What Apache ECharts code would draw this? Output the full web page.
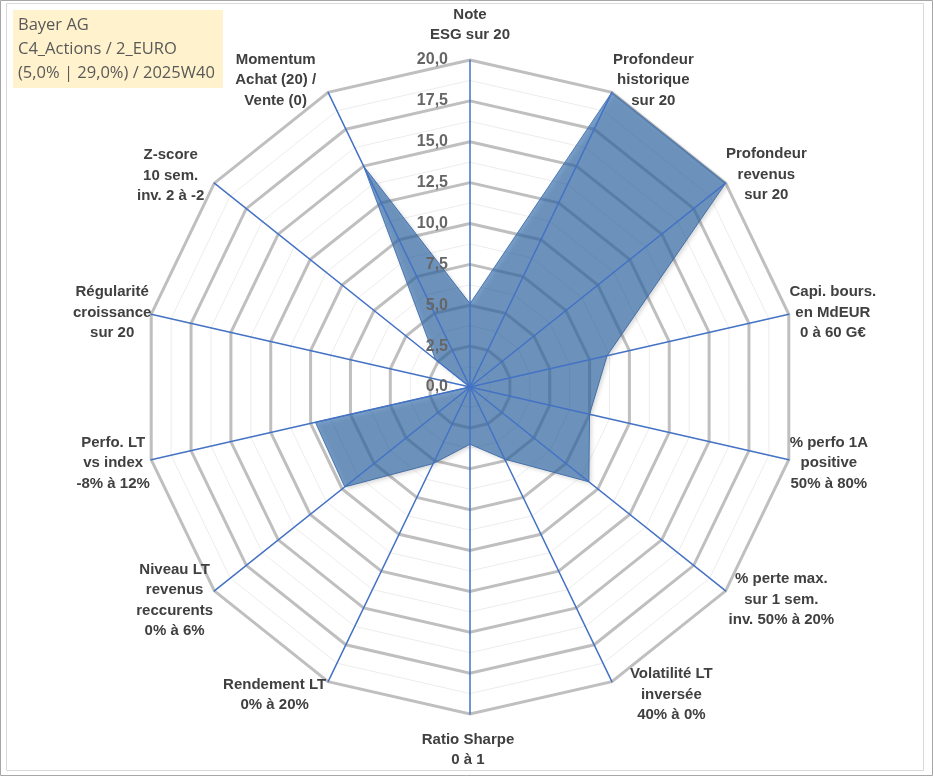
<!DOCTYPE html>
<html>
<head>
<meta charset="utf-8">
<script src="https://cdn.jsdelivr.net/npm/echarts@6/dist/echarts.min.js"></script>
<style>
  html, body { margin: 0; padding: 0; background: #fff; }
  #chart { width: 933px; height: 776px; }
</style>
</head>
<body>
<div id="chart"></div>
<script>
// axes, clockwise from the top
var axisNames = [
  'Note\nESG sur 20',
  'Profondeur\nhistorique\nsur 20',
  'Profondeur\nrevenus\nsur 20',
  'Capi. bours.\nen MdEUR\n0 à 60 G€',
  '% perfo 1A\npositive\n50% à 80%',
  '% perte max.\nsur 1 sem.\ninv. 50% à 20%',
  'Volatilité LT\ninversée\n40% à 0%',
  'Ratio Sharpe\n0 à 1',
  'Rendement LT\n0% à 20%',
  'Niveau LT\nrevenus\nreccurents\n0% à 6%',
  'Perfo. LT\nvs index\n-8% à 12%',
  'Régularité\ncroissance\nsur 20',
  'Z-score\n10 sem.\ninv. 2 à -2',
  'Momentum\nAchat (20) /\nVente (0)'
];
var scores = [5.1, 20, 20, 8.6, 7.5, 9.3, 4.9, 3.5, 5.2, 9.8, 9.7, 0, 2.7, 15];
var scaleMin = 0;
var scaleMax = 20;
var tickStep = 2.5;
var titleLines = ['Bayer AG', 'C4_Actions / 2_EURO', '(5,0% | 29,0%) / 2025W40'];

// layout only: nudge of each axis name (px) to sit like the Excel labels
var nameShift = [
  [0, 3], [25, 22], [11, 15], [7, 7], [3, -5], [26, -15], [43, -21],
  [-2, -2], [-37, -21], [-10, -14], [-1, -5], [-2, 7], [-14, 16], [-36, 22]
];
var baseGap = 38;

// echarts lays the radar out counter-clockwise, so keep the first axis and flip the rest
function ccw(arr) {
  return [arr[0]].concat(arr.slice(1).reverse());
}

// vertical part of the nudge goes along the spoke (nameGap), the rest as side padding
function nameLayout(s, idx) {
  var a = idx * 2 * Math.PI / axisNames.length;
  var ux = Math.sin(a), uy = -Math.cos(a);
  var t = s[1] / uy;
  var px = s[0] - t * ux;
  return {
    gap: baseGap + t,
    padding: [0, Math.max(0, -2 * px), 0, Math.max(0, 2 * px)]
  };
}

var chart = echarts.init(document.getElementById('chart'));

function indicators(withLabel) {
  var layouts = ccw(nameShift.map(nameLayout));
  return ccw(axisNames).map(function (n, i) {
    var ind = { name: n, min: scaleMin, max: scaleMax };
    if (withLabel) {
      ind.nameGap = layouts[i].gap;
      ind.nameTextStyle = { padding: layouts[i].padding };
      if (i === 0) ind.axisLabel = { show: true };
    }
    return ind;
  });
}

var center = [470, 387];
var radius = 327;
var steps = (scaleMax - scaleMin) / tickStep;

var option = {
  animation: false,
  title: {
    text: titleLines.join('\n'),
    left: 13,
    top: 10,
    backgroundColor: '#FFF2CC',
    padding: [3, 6, 3, 5],
    textStyle: {
      fontFamily: 'Open Sans',
      fontSize: 16.5,
      fontWeight: 'normal',
      color: '#595959',
      lineHeight: 24,
      width: 199
    }
  },
  graphic: [
    { type: 'rect', shape: { x: 0.5, y: 0.5, width: 932, height: 775 },
      style: { fill: 'none', stroke: '#a6a6a6', lineWidth: 1 }, silent: true },
    { type: 'rect', shape: { x: 6.5, y: 3.5, width: 917, height: 767 },
      style: { fill: 'none', stroke: '#d9d9d9', lineWidth: 1 }, silent: true }
  ],
  radar: [
    {
      // minor rings
      center: center, radius: radius, startAngle: 90,
      shape: 'polygon', splitNumber: steps * 2,
      indicator: indicators(false),
      axisName: { show: false },
      axisLine: { show: false },
      splitArea: { show: false },
      splitLine: { lineStyle: { color: '#ececec', width: 1 } }
    },
    {
      // major rings
      center: center, radius: radius, startAngle: 90,
      shape: 'polygon', splitNumber: steps,
      indicator: indicators(false),
      axisName: { show: false },
      axisLine: { show: false },
      splitArea: { show: false },
      splitLine: { lineStyle: { color: '#bfbfbf', width: 3 } }
    },
    {
      // spokes, names and tick labels on top
      center: center, radius: radius, startAngle: 90,
      shape: 'polygon', splitNumber: steps, z: 3,
      indicator: indicators(true),
      nameGap: baseGap,
      axisName: {
        color: '#404040',
        fontFamily: 'Liberation Sans',
        fontWeight: 'bold',
        fontSize: 15,
        lineHeight: 20.5,
        align: 'center',
        verticalAlign: 'middle'
      },
      axisLine: { lineStyle: { color: '#4472C4', width: 1.5 } },
      axisLabel: {
        show: false,
        margin: 22,
        color: '#666666',
        fontFamily: 'Liberation Sans',
        fontWeight: 'bold',
        fontSize: 16,
        formatter: function (v) { return v.toFixed(1).replace('.', ','); }
      },
      splitArea: { show: false },
      splitLine: { show: false }
    }
  ],
  series: [{
    type: 'radar',
    radarIndex: 1,
    symbol: 'none',
    z: 2,
    lineStyle: { color: '#5a82bf', width: 1 },
    areaStyle: {
      color: '#336DAC',
      opacity: 0.65,
      shadowColor: 'rgba(0,0,0,0.25)',
      shadowBlur: 4,
      shadowOffsetX: 2,
      shadowOffsetY: 2
    },
    data: [{ value: ccw(scores), name: 'Bayer AG' }]
  }]
};

chart.setOption(option);
</script>
</body>
</html>
